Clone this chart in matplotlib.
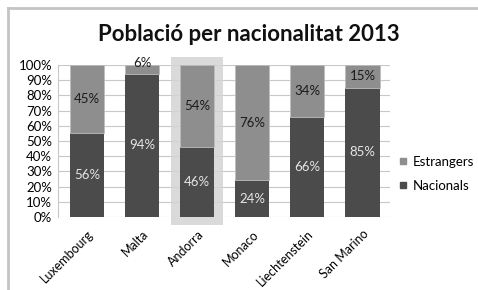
import matplotlib
matplotlib.use("Agg")
from matplotlib import pyplot as plt
from matplotlib.patches import Rectangle
from matplotlib.lines import Line2D
import numpy as np

plt.rcParams['font.family'] = ['Lato', 'DejaVu Sans']

# data (percent)
countries = ["Luxembourg", "Malta", "Andorra", "Monaco", "Liechtenstein", "San Marino"]
nacionals = [56, 94, 46, 24, 66, 85]
estrangers = [45, 6, 54, 76, 34, 15]
highlight = "Andorra"

nac = np.array(nacionals, dtype=float)
est = np.array(estrangers, dtype=float)
total = nac + est
# 100% stacked columns, like the Excel chart
nac_share = nac / total * 100
est_share = est / total * 100

c_nac = "#4b4b4b"
c_est = "#8e8e8e"

fig = plt.figure(figsize=(4.78, 2.90), dpi=100)
ax = fig.add_axes([0.121, 0.252, 0.695, 0.524])

x = np.arange(len(countries))
ax.bar(x, nac_share, width=0.62, color=c_nac, zorder=3)
ax.bar(x, est_share, width=0.62, bottom=nac_share, color=c_est, zorder=3,
       edgecolor="#bdbdbd", linewidth=0.6)

# grey box behind the highlighted country
hi = countries.index(highlight)
ax.add_patch(Rectangle((hi - 0.47, -5), 0.94, 110, facecolor="#d4d4d4",
                       edgecolor="none", alpha=0.85, zorder=2, clip_on=False))

for i in range(len(countries)):
    ax.text(x[i], nac_share[i] / 2, f"{nacionals[i]}%", ha="center", va="center",
            color="#e6e6e6", fontsize=9.5, zorder=4)
    ypos = nac_share[i] + est_share[i] / 2
    if est_share[i] < 10:
        ypos = 101.5
    ax.text(x[i], ypos, f"{estrangers[i]}%", ha="center", va="center",
            color="#1a1a1a", fontsize=9.5, zorder=4)

ax.set_xlim(-0.53, len(countries) - 0.5)
ax.set_ylim(0, 100)
ax.set_yticks(np.arange(0, 101, 10))
ax.set_yticklabels([f"{v}%" for v in range(0, 101, 10)], fontsize=9.5)
ax.set_xticks(x)
ax.set_xticklabels(countries, rotation=45, ha="right", rotation_mode="anchor",
                   fontsize=9)
ax.tick_params(axis="y", length=0, pad=4)
ax.tick_params(axis="x", length=0, pad=8)
ax.grid(axis="y", color="#c8c8c8", linewidth=0.8, zorder=0)
for s in ["top", "right", "bottom"]:
    ax.spines[s].set_visible(False)
ax.spines["left"].set_color("#c8c8c8")
ax.spines["left"].set_zorder(1)

fig.text(0.52, 0.88, "Població per nacionalitat 2013", ha="center", va="center",
         fontsize=16, fontweight="bold", color="#111111")

handles = [Line2D([], [], marker="s", linestyle="none", color=c_est, markersize=5),
           Line2D([], [], marker="s", linestyle="none", color=c_nac, markersize=5)]
fig.legend(handles, ["Estrangers", "Nacionals"], loc="center left",
           bbox_to_anchor=(0.805, 0.40), frameon=False, fontsize=9.5,
           handletextpad=0.2, labelspacing=0.9, handlelength=1.0)

# outer frame (only top and left edges visible in the picture)
fig.add_artist(Line2D([0.017, 0.017], [0.0, 0.972], color="#c4c4c4", linewidth=2,
                      transform=fig.transFigure))
fig.add_artist(Line2D([0.017, 1.0], [0.972, 0.972], color="#c4c4c4", linewidth=2,
                      transform=fig.transFigure))

fig.savefig("out.png", dpi=100)
